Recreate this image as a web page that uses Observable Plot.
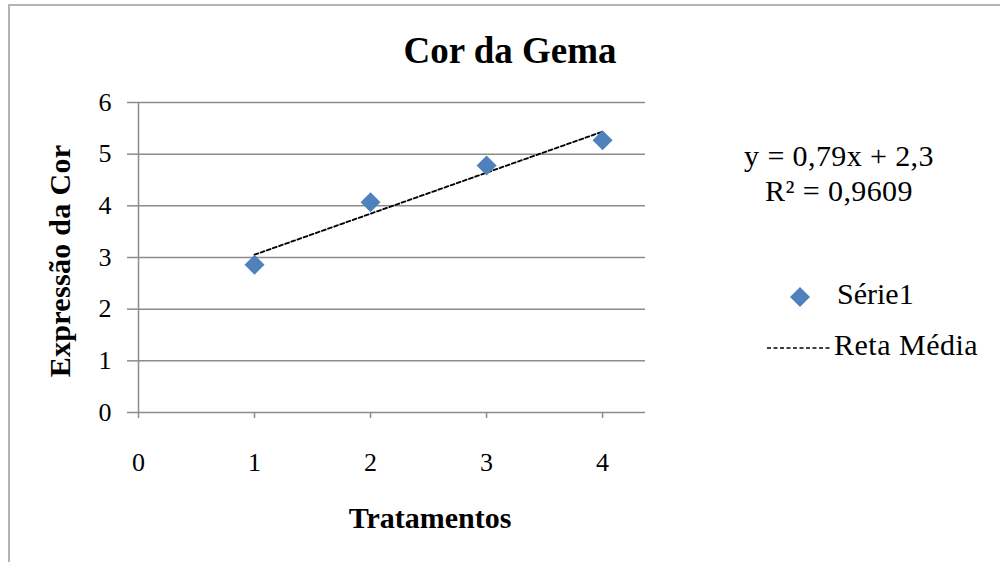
<!DOCTYPE html>
<html><head><meta charset="utf-8">
<script src="https://cdn.jsdelivr.net/npm/d3@7"></script>
<script src="https://cdn.jsdelivr.net/npm/@observablehq/plot@0.6"></script>
<style>
body{margin:0;background:#fff;}
#wrap{position:relative;width:1000px;height:562px;overflow:hidden;font-family:"Liberation Serif","Times New Roman",serif;color:#000;}
#border{position:absolute;left:8px;top:4px;width:1100px;height:700px;border-left:2px solid #b4b4b4;border-top:2px solid #b4b4b4;}
#chart{position:absolute;left:0;top:0;}
.t{position:absolute;white-space:nowrap;color:#000;line-height:1;}
</style></head><body>
<div id="wrap">
<div id="border"></div>
<div id="chart"></div>
<div class="t" id="title" style="left:510px;top:50px;transform:translate(-50%,-50%);font-size:37px;font-weight:bold">Cor da Gema</div>
<div class="t" id="ylab" style="left:60px;top:261px;transform:translate(-50%,-50%) rotate(-90deg);font-size:30px;font-weight:bold;letter-spacing:0.3px">Expressão da Cor</div>
<div class="t" id="xlab" style="left:430px;top:518px;transform:translate(-50%,-50%);font-size:30px;font-weight:bold">Tratamentos</div>
<div class="t" id="eq1" style="left:839px;top:156px;transform:translate(-50%,-50%);font-size:30px;letter-spacing:0.4px">y = 0,79x + 2,3</div>
<div class="t" id="eq2" style="left:839px;top:191px;transform:translate(-50%,-50%);font-size:30px;letter-spacing:0.4px">R² = 0,9609</div>
<div class="t" id="leg1" style="left:789px;top:294px;transform:translate(0,-50%);font-size:30px">
  <svg width="22" height="22" style="vertical-align:middle;margin-right:26px"><path d="M11,1L21,11L11,21L1,11Z" fill="#4F81BD"/></svg>Série1</div>
<div class="t" id="leg2" style="left:767px;top:345px;transform:translate(0,-50%);font-size:30px;letter-spacing:0.5px">
  <svg width="64" height="6" style="vertical-align:middle;margin-right:3px"><line x1="0" y1="3" x2="64" y2="3" stroke="#000" stroke-width="1.6" stroke-dasharray="4,2.5"/></svg>Reta Média</div>
</div>
<script>
const tratamentos = [1, 2, 3, 4];
const expressao = [2.86, 4.07, 4.78, 5.27];
const xTicks = [0, 1, 2, 3, 4];
const yTicks = [0, 1, 2, 3, 4, 5, 6];
const data = tratamentos.map((x, i) => ({x, y: expressao[i]}));
const grey = "#8c8c8c";
const chart = Plot.plot({
  width: 1000, height: 562,
  marginLeft: 138, marginRight: 355, marginTop: 102, marginBottom: 150,
  x: {domain: [0, 4.37]},
  y: {domain: [0, 6]},
  style: {fontFamily: "'Liberation Serif', 'Times New Roman', serif", fontSize: "26px", color: "#000", background: "transparent", overflow: "visible"},
  marks: [
    Plot.gridY(yTicks.filter(d => d > 0), {stroke: grey, strokeOpacity: 1, strokeWidth: 1.5}),
    Plot.ruleY([0], {stroke: grey, strokeWidth: 1.5}),
    Plot.ruleX([0], {stroke: grey, strokeWidth: 1.5}),
    Plot.axisY(yTicks, {tickSize: 11, tickPadding: 16, stroke: grey, strokeWidth: 1.5, fill: "#000", fontSize: 26, tickFormat: d => String(d), label: null}),
    Plot.axisX(xTicks, {tickSize: 6, tickPadding: 34, stroke: grey, strokeWidth: 1.5, fill: "#000", fontSize: 26, tickFormat: d => String(d), label: null}),
    Plot.linearRegressionY(data, {x: "x", y: "y", stroke: "#000", strokeWidth: 1.8, strokeDasharray: "4,2.5", ci: 0}),
    Plot.dot(data, {x: "x", y: "y", symbol: "diamond2", r: 9, fill: "#4F81BD", stroke: "none"})
  ]
});
document.getElementById("chart").appendChild(chart);
</script>
</body></html>
